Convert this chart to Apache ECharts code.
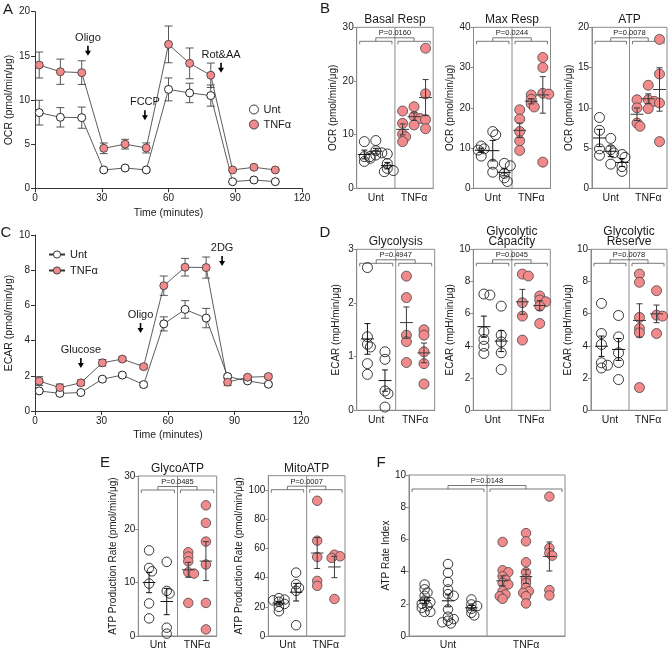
<!DOCTYPE html>
<html><head><meta charset="utf-8">
<script src="https://cdn.jsdelivr.net/npm/echarts@6/dist/echarts.min.js"></script>
<style>html,body{margin:0;padding:0;background:#fff}#c{width:670px;height:651px}</style>
</head><body><div id="c"></div>
<script>
// ---------------- DATA ----------------
const groupLabels = ['Unt', 'TNFα'];

// Panel A: OCR time course
const timeA = [1.9, 11.4, 21.0, 30.9, 40.5, 50.0, 60.0, 69.5, 79.0, 88.8, 98.4, 108.0];
const ocrUnt = [8.57, 8.04, 8.0, 2.08, 2.3, 2.08, 11.2, 10.8, 10.5, 0.75, 0.94, 0.75];
const ocrUntSem = [1.4, 1.1, 1.2, 0.1, 0.1, 0.1, 1.3, 1.1, 1.2, 0.05, 0.05, 0.05];
const ocrTnf = [13.96, 13.2, 13.1, 4.53, 5.0, 4.57, 16.3, 14.15, 12.8, 2.08, 2.38, 2.08];
const ocrTnfSem = [1.47, 1.43, 1.34, 0.6, 0.55, 0.57, 2.08, 1.74, 1.38, 0.1, 0.1, 0.1];
const injA = ['Oligo', 'FCCP', 'Rot&AA'];
const injATime = [23.8, 49.4, 83.6];
const injAY = [15.0, 7.7, 13.1];

// Panel C: ECAR time course
const timeC = [1.9, 11.2, 20.7, 30.4, 39.4, 49.0, 58.1, 67.7, 77.2, 86.9, 95.9, 105.3];
const ecarUnt = [1.14, 1.0, 1.05, 1.81, 2.04, 1.5, 4.95, 5.77, 5.28, 1.96, 1.71, 1.52];
const ecarUntSem = [0.1, 0.05, 0.05, 0.1, 0.12, 0.12, 0.4, 0.5, 0.55, 0.1, 0.1, 0.1];
const ecarTnf = [1.7, 1.33, 1.6, 2.74, 2.95, 2.52, 7.12, 8.17, 8.15, 1.64, 1.92, 1.96];
const ecarTnfSem = [0.25, 0.2, 0.15, 0.18, 0.12, 0.12, 0.55, 0.5, 0.6, 0.2, 0.1, 0.1];
const injC = ['Glucose', 'Oligo', '2DG'];
const injCTime = [20.7, 47.6, 84.4];
const injCY = [2.44, 4.43, 8.24];

// Panel B
const basalUnt = [[8.7, 5.9, 5.6, 5.0], [8.9, 7.0, 6.6, 6.2, 5.9], [6.4, 4.6, 3.7, 3.3, 3.1]];
const basalTnf = [[14.4, 12.1, 10.1, 9.6, 8.7], [15.2, 13.4, 13.0, 11.8], [26.1, 17.6, 12.8, 11.1]];
const maxUnt = [[10.5, 9.8, 9.5, 8.0], [14.1, 13.3, 6.0, 4.0], [6.2, 5.6, 3.7, 2.6, 1.7]];
const maxTnf = [[19.5, 17.2, 14.1, 11.8, 9.4], [23.2, 22.1, 21.0, 20.2], [32.5, 30.0, 23.6, 23.4, 6.5]];
const atpUnt = [[8.8, 7.2, 4.9, 4.1], [6.2, 4.8, 4.4, 3.0], [4.2, 3.85, 2.7, 2.1]];
const atpTnf = [[11.0, 10.0, 8.1, 7.7], [12.8, 11.0, 10.8, 9.9], [18.5, 14.2, 10.6, 5.8]];

// Panel D
const glyUnt = [[2.66, 1.37, 1.23, 1.18, 0.87, 0.67], [1.09, 0.95, 0.36, 0.31, 0.06]];
const glyTnf = [[2.5, 2.1, 1.4, 1.28, 0.89], [1.5, 1.4, 1.09, 0.87, 0.49]];
const capUnt = [[7.22, 7.16, 4.88, 4.4, 3.98, 3.53], [6.47, 4.67, 4.25, 3.57, 2.53]];
const capTnf = [[8.46, 8.34, 6.68, 5.85, 4.36], [7.1, 6.85, 6.74, 6.47, 5.39]];
const resUnt = [[6.64, 4.77, 4.09, 2.95, 2.8, 2.63], [5.89, 4.56, 3.57, 2.97, 1.91]];
const resTnf = [[8.46, 7.95, 5.77, 5.08, 4.81, 1.41], [7.43, 5.91, 5.85, 4.77]];

// Panel E
const glycoAtpUnt = [[16.05, 12.76, 12.13, 9.83, 6.1, 3.3], [13.9, 8.46, 7.97, 1.56, 0.44]];
const glycoAtpTnf = [[15.7, 14.9, 14.0, 11.95, 11.7, 6.2], [24.5, 21.2, 17.7, 13.4, 6.2, 1.24]];
const mitoAtpUnt = [[26, 25, 24.5, 23.5, 22, 20, 17], [43.5, 35.5, 33, 31, 7.4]];
const mitoAtpTnf = [[92.8, 65.4, 54.2, 37.8, 34.4], [55.8, 54.7, 53.6, 25.4]];

// Panel F
const rateUnt = [[3.2, 2.9, 2.7, 2.5, 2.2, 2.1, 2.0, 1.85, 1.75, 1.5, 1.5],
                 [4.47, 3.92, 3.36, 2.89, 2.6, 2.5, 1.65, 1.2, 1.05, 0.95, 0.85, 0.78],
                 [2.27, 1.96, 1.86, 1.69, 1.44, 1.28]];
const rateTnf = [[5.84, 4.08, 3.96, 3.71, 3.5, 3.3, 3.2, 2.78, 2.58, 2.47, 2.31],
                 [6.39, 5.88, 4.58, 3.96, 3.55, 3.3, 2.99, 2.78, 2.68, 2.47, 2.02],
                 [8.66, 5.46, 5.15, 4.99, 2.85, 2.52]];

const pValues = ['P=0.0160', 'P=0.0244', 'P=0.0078', 'P=0.4947', 'P=0.0045', 'P=0.0078', 'P=0.0485', 'P=0.0007', 'P=0.0148'];

// ---------------- LAYOUT / STYLE ----------------
const FONT = '"Liberation Sans", Arial, sans-serif';
const AX = '#333', BOX = '#8a8a8a', TXT = '#1a1a1a';
const PINK = '#F28A8C';

const panels = [
  {title: 'Basal Resp', g: [356.7, 27.3, 76.5, 161], max: 30, interval: 10, yName: 'OCR (pmol/min/μg)', nameGap: 17, unt: basalUnt, tnf: basalTnf, size: 10},
  {title: 'Max Resp', g: [473.5, 27.3, 77, 161], max: 40, interval: 10, yName: 'OCR (pmol/min/μg)', nameGap: 17, unt: maxUnt, tnf: maxTnf, size: 10},
  {title: 'ATP', g: [592, 27.3, 75, 161], max: 20, interval: 5, yName: 'OCR (pmol/min/μg)', nameGap: 17, unt: atpUnt, tnf: atpTnf, size: 10},
  {title: 'Glycolysis', g: [356.7, 249.3, 78, 161], max: 3, interval: 1, yName: 'ECAR (mpH/min/μg)', nameGap: 15, unt: glyUnt, tnf: glyTnf, size: 10},
  {title: 'Glycolytic\nCapacity', g: [473.3, 249.3, 77, 161], max: 10, interval: 2, yName: 'ECAR (mpH/min/μg)', nameGap: 17, unt: capUnt, tnf: capTnf, size: 10},
  {title: 'Glycolytic\nReserve', g: [591, 249.3, 76, 161], max: 10, interval: 2, yName: 'ECAR (mpH/min/μg)', nameGap: 17, unt: resUnt, tnf: resTnf, size: 10},
  {title: 'GlycoATP', g: [138.3, 476, 78.4, 161], max: 30, interval: 10, yName: 'ATP Production Rate (pmol/min/μg)', nameGap: 20, unt: glycoAtpUnt, tnf: glycoAtpTnf, size: 9.5},
  {title: 'MitoATP', g: [268.3, 475.7, 76.7, 162], max: 110, interval: 20, hideMax: true, yName: 'ATP Production Rate (pmol/min/μg)', nameGap: 23, unt: mitoAtpUnt, tnf: mitoAtpTnf, size: 9.5},
  {title: '', g: [409, 475, 156, 162], max: 10, interval: 2, yName: 'ATP Rate Index', nameGap: 17, unt: rateUnt, tnf: rateTnf, size: 9.5}
];

const letters = [['A', 8, 10], ['B', 325, 9], ['C', 6, 233], ['D', 325, 233], ['E', 105, 463], ['F', 381, 463]];

// ---------------- HELPERS ----------------
function stats(a) {
  const n = a.length, m = a.reduce((s, v) => s + v, 0) / n;
  const sd = Math.sqrt(a.reduce((s, v) => s + (v - m) * (v - m), 0) / (n - 1));
  return [m, sd / Math.sqrt(n)];
}
function colX(g, c, n) { return g + 0.05 + 0.9 * (c + 0.5) / n; }
// light deterministic dodge: only near-coincident points shift sideways a little
function swarm(vals, cx, pxX, pxY, d) {
  const placed = [], out = [];
  const cands = [0, 0.3, -0.3, 0.6, -0.6].map(f => f * d);
  vals.forEach(v => {
    const py = v * pxY;
    let best = 0, bestD = -1;
    for (const c of cands) {
      const md = placed.length ? Math.min(...placed.map(p => Math.hypot(p[0] - c, p[1] - py))) : Infinity;
      if (md >= d * 0.4) { best = c; bestD = Infinity; break; }
      if (md > bestD + 0.5) { bestD = md; best = c; }
    }
    placed.push([best, py]);
    out.push([cx + best / pxX, v]);
  });
  return out;
}
const labelStyle = {fontSize: 10, fontFamily: FONT, color: TXT};
function lineEl(x1, y1, x2, y2, color, w) {
  return {type: 'line', shape: {x1, y1, x2, y2}, style: {stroke: color, lineWidth: w || 1}};
}
function textEl(text, x, y, size, align, valign) {
  return {type: 'text', style: {text, x, y, fill: TXT, font: size + 'px ' + FONT,
    align: align || 'center', textAlign: align || 'center',
    verticalAlign: valign || 'middle', textVerticalAlign: valign || 'middle'}};
}

const grids = [], xAxes = [], yAxes = [], series = [], graphics = [];

// ---------------- TIME COURSE PANELS (A, C) ----------------
function addTimePanel(gi, grid, time, unt, untSem, tnf, tnfSem, yMax, yInt, yName, inj, injT, injY) {
  grids.push({left: grid[0], top: grid[1], width: grid[2], height: grid[3]});
  xAxes.push({gridIndex: gi, type: 'value', min: 0, max: 120, interval: 30,
    name: 'Time (minutes)', nameLocation: 'middle', nameGap: 19,
    nameTextStyle: {fontSize: 10.5, fontFamily: FONT, color: TXT},
    axisLine: {lineStyle: {color: AX}}, axisTick: {length: 4, lineStyle: {color: AX}},
    axisLabel: Object.assign({margin: 5}, labelStyle), splitLine: {show: false}});
  yAxes.push({gridIndex: gi, type: 'value', min: 0, max: yMax, interval: yInt,
    name: yName, nameLocation: 'middle', nameGap: 20,
    nameTextStyle: {fontSize: 10.5, fontFamily: FONT, color: TXT},
    axisLine: {show: true, lineStyle: {color: AX}}, axisTick: {show: true, length: 4, lineStyle: {color: AX}},
    axisLabel: Object.assign({margin: 5}, labelStyle), splitLine: {show: false}});
  const errSeries = (vals, sem) => ({type: 'custom', xAxisIndex: gi, yAxisIndex: gi, z: 2, silent: true,
    data: time.map((t, i) => [t, vals[i], sem[i]]),
    renderItem(params, api) {
      const x = api.value(0), m = api.value(1), s = api.value(2);
      const t = api.coord([x, m + s]), b = api.coord([x, m - s]);
      return {type: 'group', children: [
        lineEl(t[0], t[1], b[0], b[1], '#444', 0.9),
        lineEl(t[0] - 4, t[1], t[0] + 4, t[1], '#444', 0.9),
        lineEl(b[0] - 4, b[1], b[0] + 4, b[1], '#444', 0.9)]};
    }});
  series.push(errSeries(unt, untSem), errSeries(tnf, tnfSem));
  series.push({name: 'Unt', type: 'line', xAxisIndex: gi, yAxisIndex: gi, z: 3,
    data: time.map((t, i) => [t, unt[i]]), symbol: 'circle', symbolSize: 8,
    itemStyle: {color: '#fff', borderColor: '#222', borderWidth: 1},
    lineStyle: {color: '#333', width: 0.8}});
  series.push({name: 'TNFα', type: 'line', xAxisIndex: gi, yAxisIndex: gi, z: 3,
    data: time.map((t, i) => [t, tnf[i]]), symbol: 'circle', symbolSize: 8,
    itemStyle: {color: PINK, borderColor: '#333', borderWidth: 0.8},
    lineStyle: {color: '#333', width: 0.8}});
  // injection arrows
  series.push({type: 'custom', xAxisIndex: gi, yAxisIndex: gi, z: 4, silent: true,
    data: injT.map((t, i) => [t, injY[i], i]),
    renderItem(params, api) {
      const p = api.coord([api.value(0), api.value(1)]);
      const label = inj[api.value(2)];
      return {type: 'group', children: [
        lineEl(p[0], p[1] - 10, p[0], p[1] - 4, '#000', 1.6),
        {type: 'polygon', shape: {points: [[p[0] - 3, p[1] - 5], [p[0] + 3, p[1] - 5], [p[0], p[1]]]}, style: {fill: '#000'}},
        textEl(label, p[0], p[1] - 18, 11)]};
    }});
}
addTimePanel(0, [35, 11.7, 267, 176.6], timeA, ocrUnt, ocrUntSem, ocrTnf, ocrTnfSem, 20, 5, 'OCR (pmol/min/μg)', injA, injATime, injAY);
addTimePanel(1, [35, 235, 266, 176], timeC, ecarUnt, ecarUntSem, ecarTnf, ecarTnfSem, 10, 2, 'ECAR (pmol/min/μg)', injC, injCTime, injCY);

// ---------------- SCATTER PANELS ----------------
panels.forEach((P, k) => {
  const gi = k + 2;
  const [L, T, W, H] = P.g;
  grids.push({left: L, top: T, width: W, height: H, show: true, borderColor: BOX, borderWidth: 1, backgroundColor: 'transparent'});
  xAxes.push({gridIndex: gi, type: 'value', min: 0, max: 2, interval: 0.5,
    axisLine: {show: true, lineStyle: {color: BOX}}, axisTick: {show: false}, splitLine: {show: false},
    axisLabel: Object.assign({margin: 4, showMinLabel: true, showMaxLabel: true,
      formatter: v => Math.abs(v - 0.5) < 1e-6 ? groupLabels[0] : (Math.abs(v - 1.5) < 1e-6 ? groupLabels[1] : '')}, labelStyle, {fontSize: 10.5})});
  yAxes.push({gridIndex: gi, type: 'value', min: 0, max: P.max, interval: P.interval,
    name: P.yName, nameLocation: 'middle', nameGap: P.nameGap,
    nameTextStyle: {fontSize: 10, fontFamily: FONT, color: TXT},
    axisLine: {show: true, lineStyle: {color: BOX}}, axisTick: {show: true, length: 3, lineStyle: {color: BOX}},
    axisLabel: Object.assign({margin: 3, showMaxLabel: !P.hideMax}, labelStyle), splitLine: {show: false}});
  const pxX = W / 2, pxY = H / P.max;
  const meanData = [];
  [P.unt, P.tnf].forEach((grp, g) => {
    let pts = [];
    grp.forEach((col, c) => {
      const cx = colX(g, c, grp.length);
      pts = pts.concat(swarm(col, cx, pxX, pxY, P.size));
      const st = stats(col);
      meanData.push([cx, st[0], st[1], g]);
    });
    series.push({name: P.title + '-' + groupLabels[g], type: 'scatter', xAxisIndex: gi, yAxisIndex: gi, z: 3,
      data: pts, symbol: 'circle', symbolSize: P.size,
      itemStyle: g === 0 ? {color: 'rgba(255,255,255,0)', borderColor: '#222', borderWidth: 0.9, opacity: 1}
                         : {color: PINK, borderColor: '#444', borderWidth: 0.8, opacity: 1}});
  });
  const mw = Math.min(14, P.size + 3);
  series.push({type: 'custom', xAxisIndex: gi, yAxisIndex: gi, z: 5, silent: true, data: meanData,
    renderItem(params, api) {
      const x = api.value(0), m = api.value(1), s = api.value(2);
      const col = api.value(3) ? '#3a3a3a' : '#111';
      const c = api.coord([x, m]), t = api.coord([x, m + s]), b = api.coord([x, m - s]);
      return {type: 'group', children: [
        lineEl(c[0] - mw / 2, c[1], c[0] + mw / 2, c[1], col, 1),
        lineEl(t[0], t[1], b[0], b[1], col, 1),
        lineEl(t[0] - 3, t[1], t[0] + 3, t[1], col, 1),
        lineEl(b[0] - 3, b[1], b[0] + 3, b[1], col, 1)]};
    }});
  // separator + significance bracket
  const pText = pValues[k];
  series.push({type: 'custom', xAxisIndex: gi, yAxisIndex: gi, z: 1, silent: true, data: [[1, P.max]],
    renderItem(params, api) {
      const cs = params.coordSys;
      const top = cs.y, left = cs.x, w = cs.width, bottom = cs.y + cs.height;
      const ch = [lineEl(left + w / 2, top, left + w / 2, bottom, BOX, 1)];
      const centers = [];
      for (let g = 0; g < 2; g++) {
        const x0 = left + g * w / 2 + 3, x1 = left + (g + 1) * w / 2 - 3, yl = top + 14;
        ch.push({type: 'polyline', shape: {points: [[x0, top + 17], [x0, yl], [x1, yl], [x1, top + 17]]}, style: {stroke: '#555', lineWidth: 0.8, fill: null}});
        const gc = (x0 + x1) / 2;
        centers.push(gc);
        ch.push(lineEl(gc, yl, gc, top + 10.5, '#555', 0.8));
      }
      ch.push(lineEl(centers[0], top + 10.5, centers[1], top + 10.5, '#555', 0.8));
      ch.push(textEl(pText, (centers[0] + centers[1]) / 2, top + 6, 7.5));
      return {type: 'group', children: ch};
    }});
  // title
  if (P.title) {
    const lines = P.title.split('\n');
    lines.forEach((ln, i) => {
      graphics.push(textEl(ln, L + W / 2, T - 7.5 - (lines.length - 1 - i) * 10.6, 12));
    });
  }
});

letters.forEach(l => graphics.push(textEl(l[0], l[1], l[2], 15)));

// ---------------- OPTION ----------------
const chart = echarts.init(document.getElementById('c'));
chart.setOption({
  animation: false,
  backgroundColor: '#fff',
  textStyle: {fontFamily: FONT},
  grid: grids, xAxis: xAxes, yAxis: yAxes, series: series,
  legend: [
    {left: 244, top: 99, orient: 'vertical', itemGap: 4, itemWidth: 9, itemHeight: 9, icon: 'circle',
     itemStyle: {borderWidth: 0.9},
     data: ['Unt', 'TNFα'], selectedMode: false, textStyle: {fontSize: 11, fontFamily: FONT, color: TXT}},
    {left: 43, top: 244, orient: 'vertical', itemGap: 5, itemWidth: 16, itemHeight: 9,
     itemStyle: {borderWidth: 0.9},
     data: ['Unt', 'TNFα'], selectedMode: false, textStyle: {fontSize: 11, fontFamily: FONT, color: TXT}}
  ],
  graphic: {elements: graphics}
});
</script></body></html>
